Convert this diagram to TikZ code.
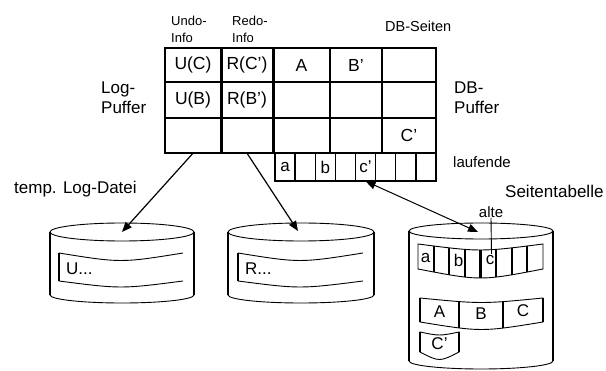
\documentclass[tikz,border=0pt]{standalone}
\usepackage{fontspec}
\setmainfont{Liberation Sans}
\usetikzlibrary{arrows.meta}
\begin{document}
\begin{tikzpicture}[x=1pt,y=-1pt,
  gridl/.style={line width=2.2pt},
  divl/.style={line width=3pt},
  ptab/.style={line width=1.4pt},
  thinl/.style={line width=0.9pt},
  sidel/.style={line width=2.6pt},
  txt/.style={inner sep=0pt, font=\fontsize{17}{20}\selectfont},
  small/.style={inner sep=0pt, align=left, font=\fontsize{13}{17}\selectfont},
  cellbox/.style={inner sep=0pt, minimum width=#1, minimum height=34pt, font=\fontsize{17.5}{20}\selectfont},
  pcell/.style={inner sep=0pt, minimum width=20.1pt, minimum height=28pt, font=\fontsize{17}{20}\selectfont},
  arr/.style={line width=1.2pt, -{Triangle[length=10pt,width=8pt]}},
  darr/.style={line width=1pt, {Triangle[length=10pt,width=8pt]}-{Triangle[length=10pt,width=8pt]}}]
\useasboundingbox (0,0) rectangle (606,371);

% ---------- buffer grid ----------
\draw[gridl] (165,48) rectangle (436,153);
\draw[gridl] (165,82) -- (436,82) (165,118) -- (436,118);
\draw[divl] (221,48) -- (221,153) (273,48) -- (273,153);
\draw[gridl] (330,48) -- (330,153) (382,48) -- (382,153);

\node[cellbox=56pt] (u1) at (193,65) {U(C)};
\node[cellbox=52pt] (r1) at (247,65) {R(C')};
\node[cellbox=57pt] (d11) at (301.5,65) {A};
\node[cellbox=52pt] (d12) at (356,65) {B'};
\node[cellbox=56pt] (u2) at (193,100) {U(B)};
\node[cellbox=52pt] (r2) at (247,100) {R(B')};
\node[cellbox=54pt] (d35) at (409,135.5) {C'};
\node[cellbox=56pt, minimum height=35pt] (u3) at (193,135.5) {};
\node[cellbox=52pt, minimum height=35pt] (r3) at (247,135.5) {};

% ---------- current page table ----------
\draw[ptab] (275,153) rectangle (436,181);
\foreach \k in {1,...,7} \draw[ptab] (275+20.125*\k,153) -- (275+20.125*\k,181);
\node[pcell] (p1) at (285.1,167) {a};
\node[pcell] (p3) at (325.3,167) {b};
\node[pcell] (p5) at (365.6,167) {c'};

% ---------- labels ----------
\node[small, anchor=west] (undol) at (171,29) {Undo-\\Info};
\node[small, anchor=west] (redol) at (232,29) {Redo-\\Info};
\node[inner sep=0pt, anchor=west, font=\fontsize{14.5}{17}\selectfont] (dbs) at (385,26) {DB-Seiten};
\node[txt, anchor=west, align=left] (logp) at (101,98) {Log-\\Puffer};
\node[txt, anchor=west, align=left] (dbp) at (454,98) {DB-\\Puffer};
\node[inner sep=0pt, anchor=west, font=\fontsize{15}{18}\selectfont] (lauf) at (453,162) {laufende};
\node[txt, anchor=west] (stab) at (505,191) {Seitentabelle};
\node[inner sep=0pt, font=\fontsize{15}{18}\selectfont] (alte) at (491,212) {alte};
\node[txt, anchor=west] (tld) at (14,189) {temp. Log-Datei};

% ---------- disk 1 ----------
\draw[thinl] (122,232) ellipse [x radius=72pt, y radius=9pt];
\draw[sidel] (50,232) -- (50,295) (194,232) -- (194,295);
\draw[thinl] (50,295) .. controls (50,299.4) and (82.2,303) .. (122,303) .. controls (161.8,303) and (194,299.4) .. (194,295);
\draw[thinl] (183,253) .. controls (121,263) .. (59,253);
\draw[thinl] (59,281) .. controls (121,289) .. (183,281);
\draw[gridl] (59,253) -- (59,281);
\node[txt, anchor=west] (ulog) at (66,269) {U...};
\coordinate (disk1) at (122,232);

% ---------- disk 2 ----------
\draw[thinl] (301,232) ellipse [x radius=73pt, y radius=9pt];
\draw[sidel] (228,232) -- (228,295) (374,232) -- (374,295);
\draw[thinl] (228,295) .. controls (228,299.4) and (260.7,303) .. (301,303) .. controls (341.3,303) and (374,299.4) .. (374,295);
\draw[thinl] (363,253) .. controls (300,263) .. (238,253);
\draw[thinl] (238,281) .. controls (300,289) .. (363,281);
\draw[gridl] (238,253) -- (238,281);
\node[txt, anchor=west] (rlog) at (245,269) {R...};
\coordinate (disk2) at (298,231);

% ---------- disk 3 ----------
\draw[thinl] (481,231) ellipse [x radius=72pt, y radius=8pt];
\draw[sidel] (409,231) -- (409,361) (553,231) -- (553,361);
\draw[thinl] (409,361) .. controls (409,365.4) and (441.2,369) .. (481,369) .. controls (520.8,369) and (553,365.4) .. (553,361);
\coordinate (disk3) at (478,232);

\begin{scope}
  \clip (418,244) .. controls (480.5,252) .. (543,244) -- (543,269) .. controls (480.5,281) .. (418,269) -- cycle;
  \foreach \k in {1,...,7} \draw[gridl] (418+15.625*\k,238) -- (418+15.625*\k,290);
\end{scope}
\draw[thinl] (418,244) .. controls (480.5,252) .. (543,244) -- (543,269) .. controls (480.5,281) .. (418,269) -- cycle;
\node[txt] (oa) at (425.5,258) {a};
\node[txt] (ob) at (458.5,260) {b};
\node[txt] (oc) at (490,260) {c};
\draw[thinl] (alte.south) -- (491.5,254);

\begin{scope}
  \clip (420,298) .. controls (481.5,304) .. (543,298) -- (543,322) .. controls (481.5,332) .. (420,322) -- cycle;
  \draw[gridl] (459,290) -- (459,335) (503,290) -- (503,335);
\end{scope}
\draw[thinl] (420,298) .. controls (481.5,304) .. (543,298) -- (543,322) .. controls (481.5,332) .. (420,322) -- cycle;
\draw[gridl] (420,298) -- (420,322) (543,298) -- (543,322);
\node[txt] (pA) at (439.5,312) {A};
\node[txt] (pB) at (481,314) {B};
\node[txt] (pC) at (523,311) {C};

\draw[thinl] (420,332) .. controls (439.5,336) .. (459,332) -- (459,352) .. controls (439.5,362) .. (420,352) -- cycle;
\draw[gridl] (420,332) -- (420,352) (459,332) -- (459,352);
\node[txt] (pC2) at (439.5,344) {C'};

% ---------- connectors ----------
\draw[arr] (u3.south) -- (disk1);
\draw[arr] (r3.south) -- (disk2);
\draw[darr] (p5.south) -- (disk3);
\end{tikzpicture}
\end{document}
